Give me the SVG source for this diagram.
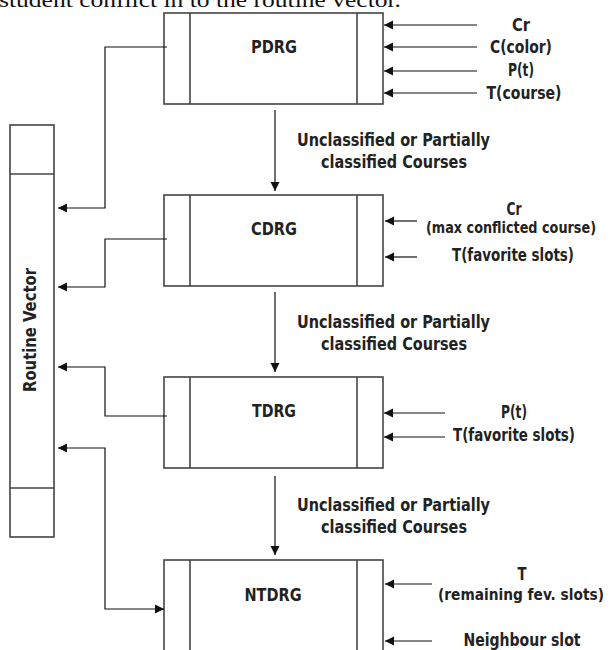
<svg xmlns="http://www.w3.org/2000/svg" width="610" height="650" viewBox="0 0 610 650">
<defs>
<marker id="ah" markerWidth="10" markerHeight="10" refX="9" refY="5" orient="auto" markerUnits="userSpaceOnUse">
<path d="M0,0.5 L9,5 L0,9.5 Z" fill="#111"/>
</marker>
<marker id="ahs" markerWidth="10" markerHeight="10" refX="9" refY="5" orient="auto-start-reverse" markerUnits="userSpaceOnUse">
<path d="M0,0.5 L9,5 L0,9.5 Z" fill="#111"/>
</marker>
<style>
.box{fill:#fff;stroke:#444;stroke-width:1.6}
.div{stroke:#444;stroke-width:1.6;fill:none}
.con{stroke:#111;stroke-width:1.2;fill:none}
.t{font-family:"Liberation Sans Narrow","DejaVu Sans Condensed","Liberation Sans",sans-serif;font-weight:bold;font-size:17px;fill:#222;text-anchor:middle;dominant-baseline:central}
.s{font-size:15px}
.top{font-family:"Liberation Serif",serif;font-size:22px;fill:#111}
</style>
</defs>
<rect width="610" height="650" fill="#fff"/>
<text class="top" x="-1" y="7" textLength="402" lengthAdjust="spacingAndGlyphs">student conflict in to the routine vector.</text>

<g id="routine-vector">
<rect class="box" x="10" y="125" width="44" height="412"/>
<line class="div" x1="10" y1="174" x2="54" y2="174"/>
<line class="div" x1="10" y1="488" x2="54" y2="488"/>
<text class="t" transform="translate(30,330) rotate(-90)" textLength="124" lengthAdjust="spacingAndGlyphs">Routine Vector</text>
</g>

<g id="pdrg">
<rect class="box" x="164" y="13" width="219" height="91"/>
<line class="div" x1="190" y1="13" x2="190" y2="104"/>
<line class="div" x1="357" y1="13" x2="357" y2="104"/>
<text class="t" x="274" y="47" textLength="46" lengthAdjust="spacingAndGlyphs">PDRG</text>
</g>

<g id="cdrg">
<rect class="box" x="164" y="195" width="219" height="91"/>
<line class="div" x1="190" y1="195" x2="190" y2="286"/>
<line class="div" x1="357" y1="195" x2="357" y2="286"/>
<text class="t" x="274" y="229" textLength="46" lengthAdjust="spacingAndGlyphs">CDRG</text>
</g>

<g id="tdrg">
<rect class="box" x="164" y="377" width="219" height="91"/>
<line class="div" x1="190" y1="377" x2="190" y2="468"/>
<line class="div" x1="357" y1="377" x2="357" y2="468"/>
<text class="t" x="274" y="411" textLength="44" lengthAdjust="spacingAndGlyphs">TDRG</text>
</g>

<g id="ntdrg">
<rect class="box" x="164" y="560" width="219" height="100"/>
<line class="div" x1="190" y1="560" x2="190" y2="660"/>
<line class="div" x1="357" y1="560" x2="357" y2="660"/>
<text class="t" x="273" y="595" textLength="57" lengthAdjust="spacingAndGlyphs">NTDRG</text>
</g>

<g id="labels">
<text class="t" x="521" y="25" textLength="18" lengthAdjust="spacingAndGlyphs">Cr</text>
<text class="t" x="521" y="47" textLength="62" lengthAdjust="spacingAndGlyphs">C(color)</text>
<text class="t" x="521" y="70" textLength="26" lengthAdjust="spacingAndGlyphs">P(t)</text>
<text class="t" x="524" y="93" textLength="75" lengthAdjust="spacingAndGlyphs">T(course)</text>
<text class="t" x="393.5" y="140" textLength="193" lengthAdjust="spacingAndGlyphs">Unclassified or Partially</text>
<text class="t" x="394" y="162" textLength="146" lengthAdjust="spacingAndGlyphs">classified Courses</text>
<text class="t" x="514" y="209" textLength="15" lengthAdjust="spacingAndGlyphs">Cr</text>
<text class="t s" x="511" y="228" textLength="170" lengthAdjust="spacingAndGlyphs">(max conflicted course)</text>
<text class="t" x="513" y="255" textLength="122" lengthAdjust="spacingAndGlyphs">T(favorite slots)</text>
<text class="t" x="393.5" y="322" textLength="193" lengthAdjust="spacingAndGlyphs">Unclassified or Partially</text>
<text class="t" x="394" y="344" textLength="146" lengthAdjust="spacingAndGlyphs">classified Courses</text>
<text class="t" x="514" y="412" textLength="26" lengthAdjust="spacingAndGlyphs">P(t)</text>
<text class="t" x="514" y="435" textLength="122" lengthAdjust="spacingAndGlyphs">T(favorite slots)</text>
<text class="t" x="393.5" y="505" textLength="193" lengthAdjust="spacingAndGlyphs">Unclassified or Partially</text>
<text class="t" x="394" y="527" textLength="146" lengthAdjust="spacingAndGlyphs">classified Courses</text>
<text class="t" x="522" y="574" textLength="9" lengthAdjust="spacingAndGlyphs">T</text>
<text class="t s" x="521" y="595" textLength="166" lengthAdjust="spacingAndGlyphs">(remaining fev. slots)</text>
<text class="t" x="522" y="640" textLength="117" lengthAdjust="spacingAndGlyphs">Neighbour slot</text>
</g>

<g id="connectors">
<line class="con" x1="477" y1="25" x2="384" y2="25" marker-end="url(#ah)"/>
<line class="con" x1="477" y1="47" x2="384" y2="47" marker-end="url(#ah)"/>
<line class="con" x1="477" y1="71" x2="384" y2="71" marker-end="url(#ah)"/>
<line class="con" x1="477" y1="93" x2="384" y2="93" marker-end="url(#ah)"/>
<line class="con" x1="417" y1="221" x2="385" y2="221" marker-end="url(#ah)"/>
<line class="con" x1="417" y1="257" x2="385" y2="257" marker-end="url(#ah)"/>
<line class="con" x1="445" y1="413" x2="384" y2="413" marker-end="url(#ah)"/>
<line class="con" x1="445" y1="437" x2="384" y2="437" marker-end="url(#ah)"/>
<line class="con" x1="432" y1="584" x2="385" y2="584" marker-end="url(#ah)"/>
<line class="con" x1="432" y1="641" x2="385" y2="641" marker-end="url(#ah)"/>
<line class="con" x1="275" y1="110" x2="275" y2="191" marker-end="url(#ah)"/>
<line class="con" x1="275" y1="292" x2="275" y2="372" marker-end="url(#ah)"/>
<line class="con" x1="275" y1="476" x2="275" y2="555" marker-end="url(#ah)"/>
<polyline class="con" points="167,47 105,47 105,208 58,208" marker-end="url(#ah)"/>
<polyline class="con" points="167,239 105,239 105,287 58,287" marker-end="url(#ah)"/>
<polyline class="con" points="167,416 105,416 105,367 58,367" marker-end="url(#ah)"/>
<polyline class="con" points="164,609 105,609 105,448 58,448" marker-start="url(#ahs)" marker-end="url(#ah)"/>
</g>
</svg>
